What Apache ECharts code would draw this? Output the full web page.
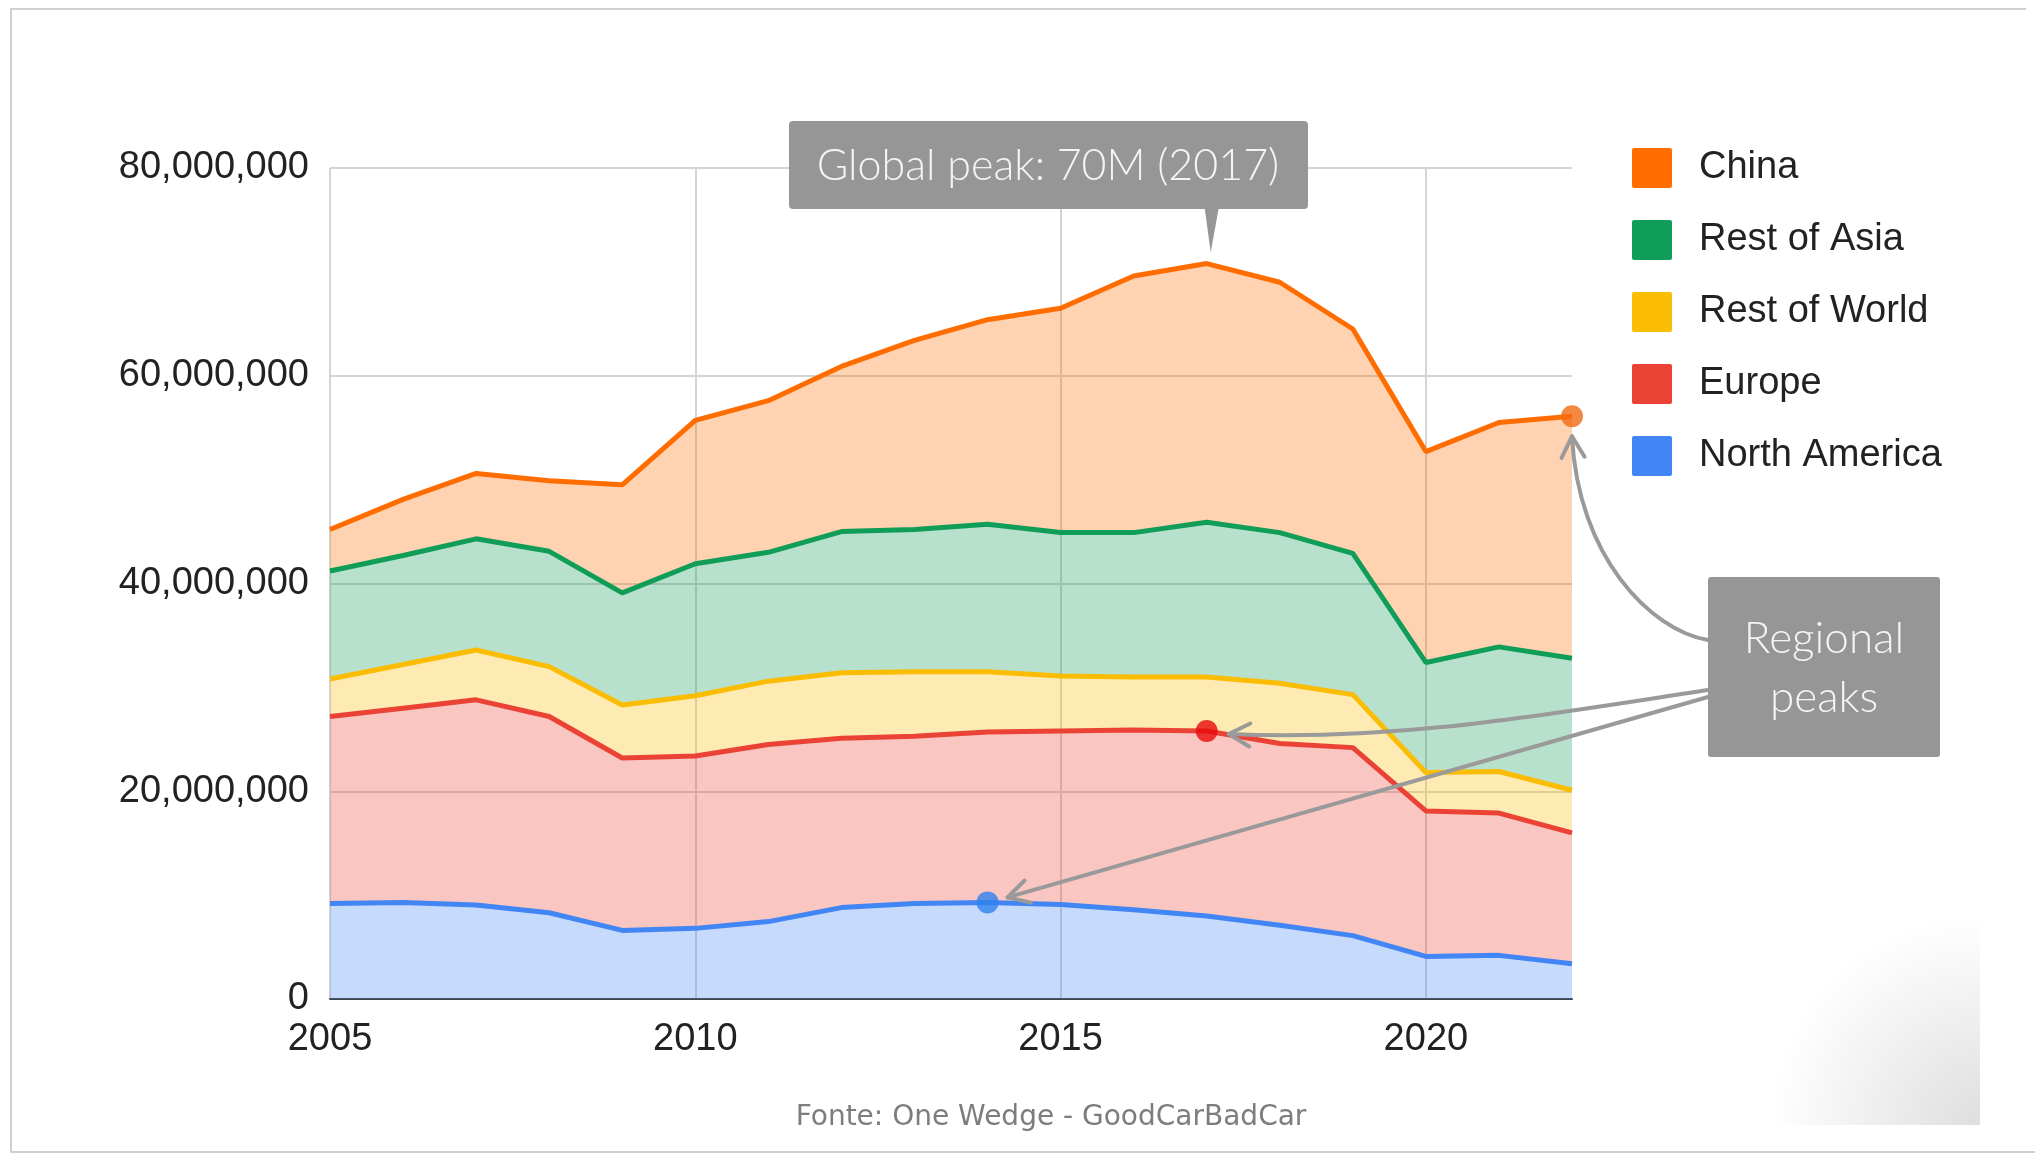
<!DOCTYPE html>
<html>
<head>
<meta charset="utf-8">
<script src="https://cdn.jsdelivr.net/npm/echarts@6/dist/echarts.min.js"></script>
<style>
  html, body { margin: 0; padding: 0; background: #fff; }
  #chart { width: 2035px; height: 1158px; }
</style>
</head>
<body>
<div id="chart"></div>
<script>
// anos
const years = ['2005', '2006', '2007', '2008', '2009', '2010', '2011', '2012', '2013',
               '2014', '2015', '2016', '2017', '2018', '2019', '2020', '2021', '2022'];

// vendas por região, em milhões
const northAmerica = [9.2, 9.3, 9.05, 8.3, 6.6, 6.8, 7.45, 8.8, 9.2, 9.3, 9.1, 8.6, 8.0, 7.1, 6.1, 4.1, 4.2, 3.4];
const europe       = [18.0, 18.7, 19.75, 18.9, 16.6, 16.6, 17.05, 16.3, 16.1, 16.4, 16.7, 17.3, 17.8, 17.5, 18.1, 14.0, 13.7, 12.6];
const restOfWorld  = [3.6, 4.2, 4.8, 4.8, 5.1, 5.8, 6.1, 6.3, 6.2, 5.8, 5.3, 5.1, 5.2, 5.8, 5.1, 3.7, 4.0, 4.1];
const restOfAsia   = [10.4, 10.5, 10.7, 11.1, 10.8, 12.7, 12.4, 13.6, 13.7, 14.2, 13.8, 13.9, 14.9, 14.5, 13.6, 10.6, 12.0, 12.7];
const china        = [4.0, 5.4, 6.3, 6.8, 10.4, 13.8, 14.6, 15.9, 18.2, 19.7, 21.6, 24.7, 24.9, 24.1, 21.6, 20.3, 21.6, 23.3];

const legendOrder = ['China', 'Rest of Asia', 'Rest of World', 'Europe', 'North America'];
const yTicks = [0, 20000000, 40000000, 60000000, 80000000];

// picos regionais: índice do ano
const chinaPeak = 17, europePeak = 12, naPeak = 9;

const M = 1e6;
const colors = {
  'North America': '#4285f4',
  'Europe': '#ea4335',
  'Rest of World': '#fbbc04',
  'Rest of Asia': '#0f9d58',
  'China': '#ff6d01'
};

var chartDom = document.getElementById('chart');
var myChart = echarts.init(chartDom);

function areaSeries(name, values) {
  const c = colors[name];
  return {
    name: name,
    type: 'line',
    stack: 'total',
    color: c,
    symbol: 'none',
    lineStyle: { width: 5, color: c },
    areaStyle: { color: c, opacity: 0.3 },
    emphasis: { disabled: true },
    data: values.map(v => v * M)
  };
}

// soma acumulada até a série n (para posicionar os pontos de pico)
const stackOrder = [northAmerica, europe, restOfWorld, restOfAsia, china];
function stackedAt(level, i) {
  let s = 0;
  for (let k = 0; k <= level; k++) s += stackOrder[k][i];
  return s * M;
}

var option = {
  animation: false,
  backgroundColor: '#fff',
  grid: { left: 330, right: 463, top: 168, bottom: 159 },
  legend: {
    data: legendOrder,
    orient: 'vertical',
    left: 1627,
    top: 143,
    icon: 'path://M2,0 L38,0 Q40,0 40,2 L40,38 Q40,40 38,40 L2,40 Q0,40 0,38 L0,2 Q0,0 2,0 Z',
    itemWidth: 40,
    itemHeight: 40,
    itemGap: 32,
    selectedMode: false,
    textStyle: {
      fontFamily: 'Liberation Sans, Arial, sans-serif',
      fontSize: 38,
      color: '#222',
      padding: [0, 0, 0, 22]
    }
  },
  xAxis: {
    type: 'category',
    data: years,
    boundaryGap: false,
    axisLine: { show: true, lineStyle: { color: '#444', width: 2 } },
    axisTick: { show: false },
    axisLabel: {
      interval: 4,
      margin: 22,
      fontFamily: 'Liberation Sans, Arial, sans-serif',
      fontSize: 38,
      color: '#222'
    },
    splitLine: { show: true, interval: 4, lineStyle: { color: '#d4d4d4', width: 2 } }
  },
  yAxis: {
    type: 'value',
    min: yTicks[0],
    max: yTicks[yTicks.length - 1],
    interval: yTicks[1] - yTicks[0],
    axisLine: { show: false },
    axisTick: { show: false },
    axisLabel: {
      margin: 21,
      fontFamily: 'Liberation Sans, Arial, sans-serif',
      fontSize: 38,
      color: '#222',
      formatter: v => v.toLocaleString('en-US')
    },
    splitLine: { lineStyle: { color: '#d4d4d4', width: 2 } }
  },
  series: [
    areaSeries('North America', northAmerica),
    areaSeries('Europe', europe),
    areaSeries('Rest of World', restOfWorld),
    areaSeries('Rest of Asia', restOfAsia),
    areaSeries('China', china),
    {
      name: 'peaks',
      type: 'scatter',
      symbolSize: 22,
      z: 10,
      emphasis: { disabled: true },
      data: [
        { value: [chinaPeak, stackedAt(4, chinaPeak)], itemStyle: { color: '#f26a10' } },
        { value: [europePeak, stackedAt(1, europePeak)], itemStyle: { color: '#e80a0a' } },
        { value: [naPeak, stackedAt(0, naPeak)], itemStyle: { color: '#2f82ee' } }
      ]
    }
  ]
};

myChart.setOption(option);

// anotações (caixas + setas) posicionadas a partir dos pontos dos dados
const px = (i, v) => myChart.convertToPixel({ gridIndex: 0 }, [i, v]);
const peakTop = px(12, stackedAt(4, 12));
const chinaDot = px(chinaPeak, stackedAt(4, chinaPeak));
const euDot = px(europePeak, stackedAt(1, europePeak));
const naDot = px(naPeak, stackedAt(0, naPeak));

const grey = '#969696';
const arrowColor = '#9a9a9a';

function chevron(tip, from) {
  const a = Math.atan2(from[1] - tip[1], from[0] - tip[0]);
  const len = 24, ang = 0.5;
  return [
    [tip[0] + len * Math.cos(a + ang), tip[1] + len * Math.sin(a + ang)],
    tip,
    [tip[0] + len * Math.cos(a - ang), tip[1] + len * Math.sin(a - ang)]
  ];
}

const tip1 = [chinaDot[0], chinaDot[1] + 20];
const c1a = [1650, 630], c1b = [chinaDot[0] + 6, chinaDot[1] + 140];
const tip2 = [euDot[0] + 22, euDot[1] + 3];
const c2a = [1560, 712], c2b = [1400, 742];
const tip3 = [naDot[0] + 20, naDot[1] - 5];
const start3 = [1708, 697];

const lineStyle = { stroke: arrowColor, lineWidth: 4, fill: null, lineCap: 'round', lineJoin: 'round' };

myChart.setOption({
  graphic: [
    { type: 'polyline', silent: true, z: 0,
      shape: { points: [[2026, 9], [11, 9], [11, 1152], [2035, 1152]] },
      style: { stroke: '#d0d0d0', lineWidth: 2, fill: null } },
    { type: 'rect', silent: true, z: 0,
      shape: { x: 1770, y: 760, width: 210, height: 365 },
      style: { fill: { type: 'radial', x: 1, y: 1, r: 1,
        colorStops: [{ offset: 0, color: 'rgba(0,0,0,0.13)' }, { offset: 1, color: 'rgba(0,0,0,0)' }] } } },

    // caixa do pico global
    { type: 'rect', z: 100, shape: { x: 789, y: 121, width: 519, height: 88, r: 4 }, style: { fill: grey } },
    { type: 'polygon', z: 100,
      shape: { points: [[peakTop[0] - 2, 208], [peakTop[0] + 12, 208], [peakTop[0] + 4, peakTop[1] - 11]] },
      style: { fill: grey } },
    { type: 'text', z: 101, x: 1048, y: 166,
      style: { text: 'Global peak: 70M (2017)', fontFamily: 'Lato', fontWeight: 300, fontSize: 43,
               fill: '#f4f4f4', align: 'center', verticalAlign: 'middle' } },

    // setas
    { type: 'bezierCurve', z: 100,
      shape: { x1: 1708, y1: 640, cpx1: c1a[0], cpy1: c1a[1], cpx2: c1b[0], cpy2: c1b[1], x2: tip1[0], y2: tip1[1] },
      style: lineStyle },
    { type: 'polyline', z: 100, shape: { points: chevron(tip1, c1b) }, style: lineStyle },
    { type: 'bezierCurve', z: 100,
      shape: { x1: 1708, y1: 690, cpx1: c2a[0], cpy1: c2a[1], cpx2: c2b[0], cpy2: c2b[1], x2: tip2[0], y2: tip2[1] },
      style: lineStyle },
    { type: 'polyline', z: 100, shape: { points: chevron(tip2, c2b) }, style: lineStyle },
    { type: 'line', z: 100,
      shape: { x1: start3[0], y1: start3[1], x2: tip3[0], y2: tip3[1] }, style: lineStyle },
    { type: 'polyline', z: 100, shape: { points: chevron(tip3, start3) }, style: lineStyle },

    // caixa dos picos regionais
    { type: 'rect', z: 101, shape: { x: 1708, y: 577, width: 232, height: 180, r: 3 }, style: { fill: grey } },
    { type: 'text', z: 102, x: 1824, y: 668,
      style: { text: 'Regional\npeaks', fontFamily: 'Lato', fontWeight: 300, fontSize: 44, lineHeight: 59,
               fill: '#f4f4f4', align: 'center', verticalAlign: 'middle' } },

    // fonte
    { type: 'text', z: 100, x: 1051, y: 1118,
      style: { text: 'Fonte: One Wedge - GoodCarBadCar', fontFamily: 'DejaVu Sans', fontSize: 28,
               fill: '#7d7d7d', align: 'center', verticalAlign: 'middle' } }
  ]
});
</script>
</body>
</html>
